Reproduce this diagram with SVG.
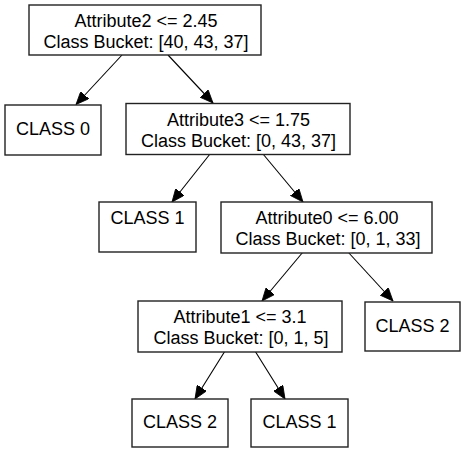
<svg xmlns="http://www.w3.org/2000/svg" width="467" height="453" viewBox="0 0 467 453">
<style>
.box{fill:#fff;stroke:#222;stroke-width:1.4}
.lbl{font-family:"Liberation Sans",Arial,sans-serif;font-size:18px;fill:#000;text-anchor:middle}
.edge{stroke:#000;stroke-width:1.1;fill:none}
</style>
<defs>
<marker id="arr" markerUnits="userSpaceOnUse" markerWidth="14" markerHeight="11" refX="13" refY="5.5" orient="auto" viewBox="0 0 14 11">
<path d="M0,0 L13,5.5 L0,11 z" fill="#000" stroke="#000" stroke-width="0.8"/>
</marker>
</defs>
<rect width="467" height="453" fill="#fff"/>
<g id="connectors">
<line class="edge" x1="122" y1="55" x2="76" y2="104.5" marker-end="url(#arr)"/>
<line class="edge" x1="168" y1="55" x2="213" y2="103" marker-end="url(#arr)"/>
<line class="edge" x1="210" y1="154" x2="172" y2="202" marker-end="url(#arr)"/>
<line class="edge" x1="263" y1="154" x2="303" y2="202" marker-end="url(#arr)"/>
<line class="edge" x1="303" y1="252" x2="262" y2="301" marker-end="url(#arr)"/>
<line class="edge" x1="348" y1="252" x2="393" y2="301" marker-end="url(#arr)"/>
<line class="edge" x1="225" y1="351" x2="195" y2="399" marker-end="url(#arr)"/>
<line class="edge" x1="255" y1="351" x2="285" y2="399" marker-end="url(#arr)"/>
</g>
<g id="node-root">
<rect class="box" x="29" y="5" width="232" height="50"/>
<text class="lbl" x="146" y="27">Attribute2 &lt;= 2.45</text>
<text class="lbl" x="146" y="48">Class Bucket: [40, 43, 37]</text>
</g>
<g id="node-class0">
<rect class="box" x="5" y="105" width="96" height="50"/>
<text class="lbl" x="53" y="135">CLASS 0</text>
</g>
<g id="node-attr3">
<rect class="box" x="126" y="103.5" width="224" height="51"/>
<text class="lbl" x="238.5" y="126">Attribute3 &lt;= 1.75</text>
<text class="lbl" x="238.5" y="147">Class Bucket: [0, 43, 37]</text>
</g>
<g id="node-class1a">
<rect class="box" x="99" y="202" width="97" height="50"/>
<text class="lbl" x="147.5" y="224">CLASS 1</text>
</g>
<g id="node-attr0">
<rect class="box" x="221" y="202" width="211" height="51"/>
<text class="lbl" x="327" y="224">Attribute0 &lt;= 6.00</text>
<text class="lbl" x="328" y="245">Class Bucket: [0, 1, 33]</text>
</g>
<g id="node-attr1">
<rect class="box" x="138" y="301" width="204" height="51"/>
<text class="lbl" x="240" y="323">Attribute1 &lt;= 3.1</text>
<text class="lbl" x="241" y="344">Class Bucket: [0, 1, 5]</text>
</g>
<g id="node-class2a">
<rect class="box" x="365" y="302" width="95" height="49"/>
<text class="lbl" x="412.5" y="332">CLASS 2</text>
</g>
<g id="node-class2b">
<rect class="box" x="132" y="399" width="96" height="48"/>
<text class="lbl" x="180" y="428">CLASS 2</text>
</g>
<g id="node-class1b">
<rect class="box" x="251" y="399" width="97" height="48"/>
<text class="lbl" x="299.5" y="428">CLASS 1</text>
</g>
</svg>
